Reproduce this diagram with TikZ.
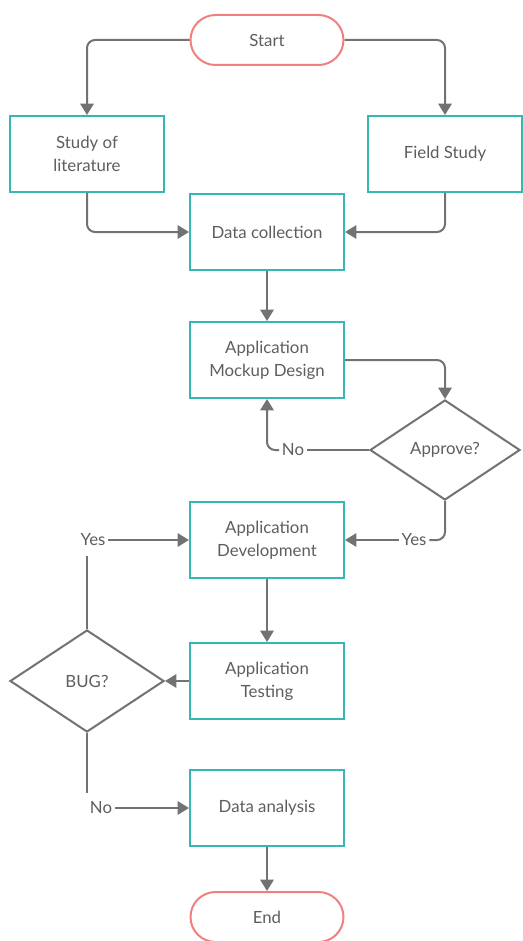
\documentclass[tikz,border=0pt]{standalone}
\usepackage{fontspec}
\setmainfont{Lato}
\usetikzlibrary{shapes.geometric,arrows.meta}
\definecolor{teal1}{HTML}{35B8B2}
\definecolor{red1}{HTML}{F07F7F}
\definecolor{line1}{HTML}{727272}
\definecolor{txt1}{HTML}{5E5E5E}
\begin{document}
\begin{tikzpicture}[x=0.75pt,y=-0.75pt,
  every node/.style={font=\fontsize{12.6}{17.25}\selectfont, text=txt1},
  proc/.style={draw=teal1, line width=1.5pt, fill=white, minimum width=115.5pt, minimum height=57pt, align=center, inner sep=0pt},
  term/.style={draw=red1, line width=1.5pt, fill=white, minimum width=114.75pt, minimum height=37.5pt, rounded corners=18.75pt, inner sep=0pt},
  dec/.style={draw=line1, line width=1.5pt, fill=white, diamond, inner sep=0pt},
  lbl/.style={fill=white, inner sep=2pt},
  conn/.style={draw=line1, line width=1.5pt, rounded corners=6pt},
  arr/.style={conn, -{Triangle[length=8.5pt,width=10pt]}}
]
\useasboundingbox (0,0) rectangle (522,941);
\node[term] (start) at (267,40) {Start};
\node[proc] (lit) at (87,154) {Study of\\literature};
\node[proc] (field) at (445,154) {Field Study};
\node[proc] (coll) at (267,232) {Data collection};
\node[proc] (mock) at (267,360) {Application\\Mockup Design};
\node[dec, minimum width=112.5pt, minimum height=75pt] (ap) at (445,450) {Approve?};
\node[proc] (dev) at (267,540) {Application\\Development};
\node[proc] (test) at (267,681) {Application\\Testing};
\node[dec, minimum width=115.5pt, minimum height=76.5pt] (bug) at (87,681) {BUG?};
\node[proc] (ana) at (267,808) {Data analysis};
\node[term] (end) at (267,917) {End};

\node[lbl] (no1) at (293,450) {No};
\node[lbl] (yes1) at (414,540) {Yes};
\node[lbl] (yes2) at (93,540) {Yes};
\node[lbl] (no2) at (101,808) {No};

\draw[arr] (start.west) -| (lit.north);
\draw[arr] (start.east) -| (field.north);
\draw[arr] (lit.south) |- (coll.west);
\draw[arr] (field.south) |- (coll.east);
\draw[arr] (coll) -- (mock);
\draw[arr] (mock.east) -| (ap.north);
\draw[conn] (ap.west) -- (no1.east);
\draw[arr] (no1.west) -| (mock.south);
\draw[conn] (ap.south) |- (yes1.east);
\draw[arr] (yes1.west) -- (dev.east);
\draw[arr] (dev) -- (test);
\draw[arr] (test.west) -- (bug.east);
\draw[conn] (bug.north) -- (bug.north |- 0,556);
\draw[arr] (yes2.east) -- (dev.west);
\draw[conn] (bug.south) -- (bug.south |- 0,793);
\draw[arr] (no2.east) -- (ana.west);
\draw[arr] (ana) -- (end);
\end{tikzpicture}
\end{document}
